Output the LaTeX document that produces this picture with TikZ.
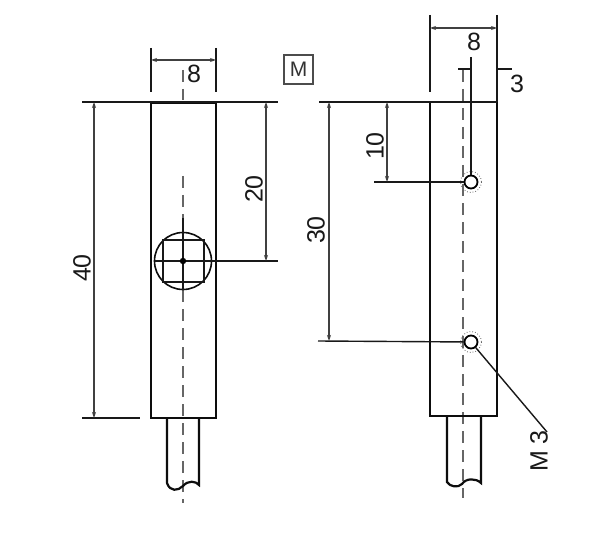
\documentclass[tikz,border=0pt]{standalone}
\usepackage{fontspec}
\setmainfont{Liberation Sans}
\usetikzlibrary{arrows.meta}

\begin{document}
\begin{tikzpicture}[x=0.5pt,y=-0.5pt]
            \tikzstyle{body}=[line width=1.1pt, draw=black!95]
            \tikzstyle{thin}=[line width=0.7pt, draw=black!90]
            \tikzstyle{dim}=[line width=0.7pt, draw=black!75, {Stealth[length=3pt,width=2pt]}-{Stealth[length=3pt,width=2pt]}]
            \tikzstyle{axis}=[line width=0.9pt, draw=black!60, dash pattern=on 6pt off 3.5pt]
            \tikzstyle{label}=[font=\fontsize{12.5}{14}\selectfont, text=black!90, inner sep=0pt]
            \useasboundingbox (0,0) rectangle (600,556);
            \fill[white] (0,0) rectangle (600,556);
            % front view
            \coordinate (FT) at (183,70);
            \coordinate (FM) at (183,100);
            \coordinate (FN) at (183,176);
            \coordinate (FB) at (183,503);
            \coordinate (FC) at (183,261);
            \draw[axis] (FT) -- (FM);
            \draw[axis] (FN) -- (FB);
            \node[draw=black!95, line width=1.1pt, inner sep=0pt, minimum width=32.5pt, minimum height=157.5pt] (Fbody) at (183.5,260.5){};
            \draw[body] (167,418) -- (167,483) .. controls (170,492) and (178,491) .. (183,486) .. controls (188,480) and (196,481) .. (199,485) -- (199,418);
            \node[circle, draw=black!95, line width=0.8pt, fill=white, inner sep=0pt, minimum size=28.5pt] (Fwin) at (FC){};
            \draw[thin] (163,240) rectangle (204,282);
            \draw[thin] (183,218) -- (183,290);
            \draw[thin] (155,261) -- (278,261);
            \fill[black] (FC) circle (3.2);
            % front view dimensions
            \draw[thin] (82,102) -- (278,102);
            \draw[thin] (82,418) -- (140,418);
            \draw[thin] (151,48) -- (151,92);
            \draw[thin] (216,48) -- (216,92);
            \draw[dim] (151,60) -- (216,60);
            \draw[dim] (94,102) -- (94,418);
            \draw[dim] (266,102) -- (266,261);
            \node[label] (Fw) at (194,74){8};
            \node[label, rotate=90] (Fh) at (82,268){40};
            \node[label, rotate=90] (Fm) at (254,189){20};
            \node[draw=black!70, line width=0.6pt, minimum size=14.5pt, inner sep=0pt, font=\fontsize{10.5}{12}\selectfont, text=black!80] (Mark) at (298.5,69.5){M};
            % side view
            \coordinate (ST) at (463,70);
            \coordinate (SB) at (463,498);
            \draw[axis] (ST) -- (SB);
            \node[draw=black!95, line width=1.1pt, inner sep=0pt, minimum width=33.5pt, minimum height=157pt] (Sbody) at (463.5,259){};
            \draw[body] (447,416) -- (447,482) .. controls (450,487) and (458,488) .. (462,484) .. controls (466,478) and (476,478) .. (481,483) -- (481,416);
            \node[circle, draw=black, line width=0.9pt, fill=white, inner sep=0pt, minimum size=6.5pt] (HoleA) at (471,182){};
            \node[circle, draw=black, line width=0.9pt, fill=white, inner sep=0pt, minimum size=6.5pt] (HoleB) at (471,342){};
            \draw[line width=0.4pt, draw=black!60, densely dotted] (HoleA) circle (10.5);
            \draw[line width=0.4pt, draw=black!60, densely dotted] (HoleB) circle (10.5);
            % side view dimensions
            \draw[thin] (319,102) -- (497,102);
            \draw[thin] (430,15) -- (430,92);
            \draw[thin] (497,15) -- (497,102);
            \draw[dim] (430,28) -- (497,28);
            \draw[thin] (471,57) -- (HoleA);
            \draw[thin] (458,69) -- (471,69);
            \draw[thin] (497,69) -- (512,69);
            \draw[thin] (374,182) -- (HoleA);
            \draw[thin] (318,341) -- (HoleB);
            \draw[dim] (387,102) -- (387,182);
            \draw[dim] (329,102) -- (329,341);
            \node[label] (Sw) at (474,42){8};
            \node[label] (Sd) at (517,84){3};
            \node[label, rotate=90] (Sa) at (375,146){10};
            \node[label, rotate=90] (Sb) at (316,230){30};
            \node[label, rotate=90] (Thread) at (539,451){M 3};
            \coordinate (Lead) at (547,432);
            \draw[thin] (HoleB) -- (Lead);
        \end{tikzpicture}
\end{document}
